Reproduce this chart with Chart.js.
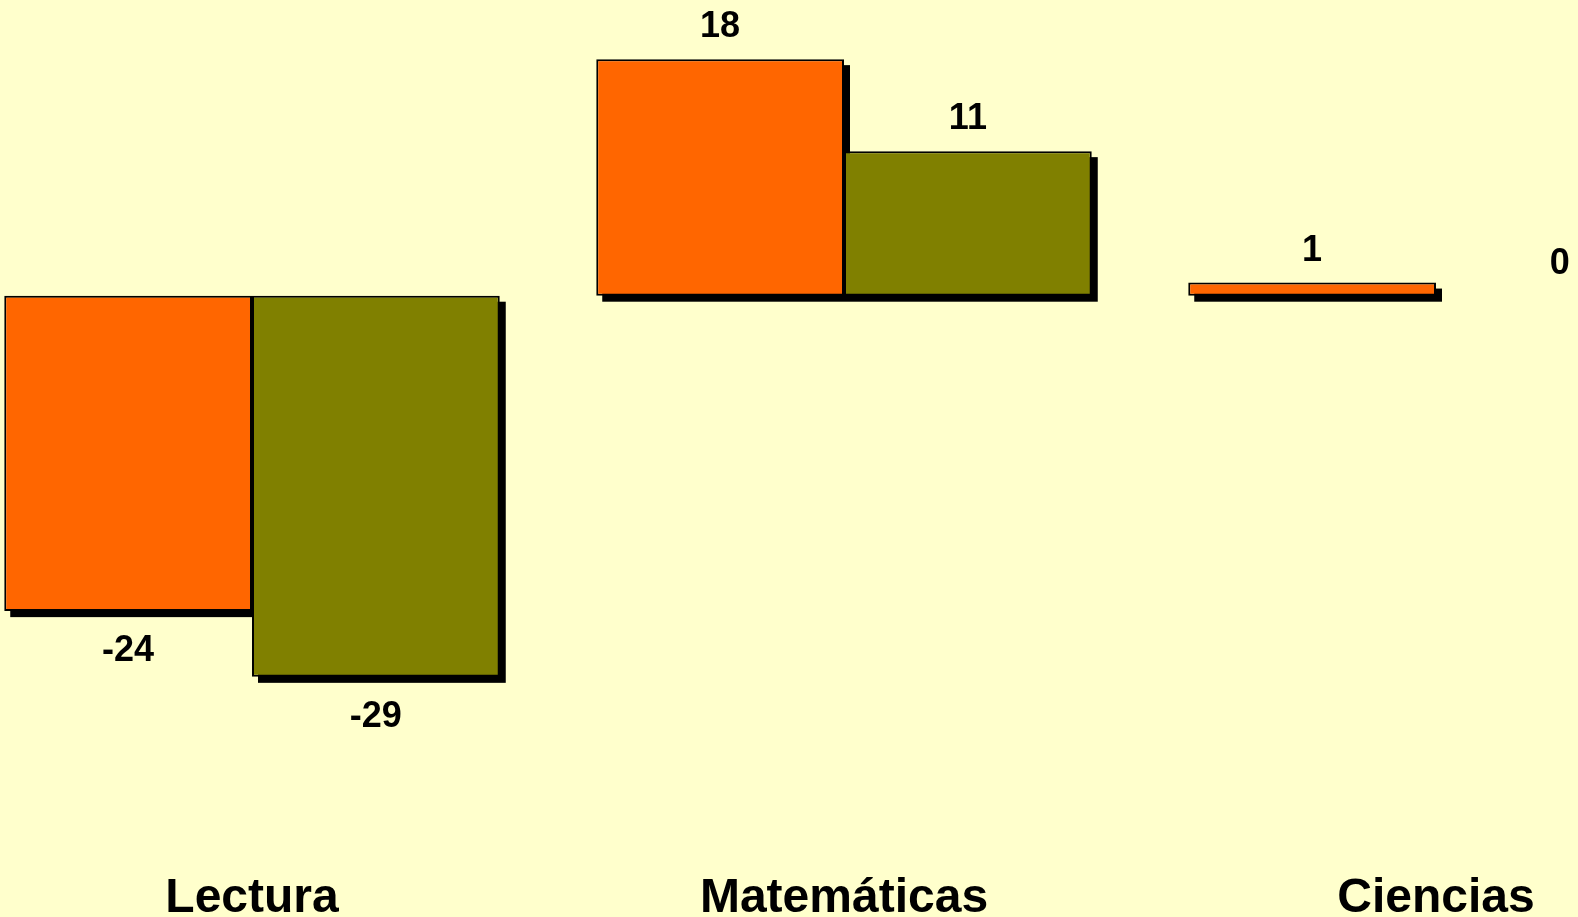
<!DOCTYPE html>
<html>
<head>
<meta charset="utf-8">
<script src="https://cdn.jsdelivr.net/npm/chart.js@4/dist/chart.umd.min.js"></script>
<style>
  html, body { margin: 0; padding: 0; background: #FFFFCC; overflow: hidden; width: 1578px; height: 917px; }
  #wrap { position: absolute; left: -44px; top: 0; width: 1776px; height: 977px; }
</style>
</head>
<body>
<div id="wrap"><canvas id="c" width="1776" height="977"></canvas></div>
<script>
const categories = ["Lectura", "Matemáticas", "Ciencias"];
const series1 = [-24, 18, 1];
const series2 = [-29, 11, 0];
const seriesColors = ["#FF6600", "#808000"];

const shadowPlugin = {
  id: "shadow",
  beforeDatasetsDraw(chart) {
    const ctx = chart.ctx;
    ctx.save();
    ctx.fillStyle = "#000000";
    chart.data.datasets.forEach((ds, di) => {
      const meta = chart.getDatasetMeta(di);
      meta.data.forEach((bar) => {
        const p = bar.getProps(["x", "y", "base", "width"], true);
        const h = Math.abs(p.base - p.y);
        if (h <= 0.5) return;
        const left = p.x - p.width / 2;
        const top = Math.min(p.y, p.base);
        ctx.fillRect(left + 6, top + 6, p.width, h);
      });
    });
    ctx.restore();
  }
};

const labelPlugin = {
  id: "valueLabels",
  afterDatasetsDraw(chart) {
    const ctx = chart.ctx;
    ctx.save();
    ctx.fillStyle = "#000";
    ctx.font = "bold 36px 'Liberation Sans', Arial, sans-serif";
    ctx.textAlign = "center";
    ctx.textBaseline = "alphabetic";
    chart.data.datasets.forEach((ds, di) => {
      const meta = chart.getDatasetMeta(di);
      meta.data.forEach((bar, i) => {
        const v = ds.data[i];
        const y = v >= 0 ? bar.y - 22 : bar.y + 50;
        ctx.fillText(String(v), bar.x, y);
      });
    });
    ctx.restore();
  }
};

new Chart(document.getElementById("c"), {
  type: "bar",
  data: {
    labels: categories,
    datasets: [
      { data: series1, backgroundColor: seriesColors[0], borderColor: "#000", borderWidth: 2, borderSkipped: false },
      { data: series2, backgroundColor: seriesColors[1], borderColor: "#000", borderWidth: 2, borderSkipped: false }
    ]
  },
  options: {
    responsive: false,
    animation: false,
    events: [],
    layout: { padding: 0 },
    categoryPercentage: 0.837,
    barPercentage: 1,
    plugins: { legend: { display: false }, tooltip: { enabled: false } },
    scales: {
      x: {
        grid: { display: false, drawTicks: false },
        border: { display: false },
        ticks: {
          color: "#000",
          padding: 49,
          font: { family: "'Liberation Sans', Arial, sans-serif", size: 48, weight: "bold" }
        }
      },
      y: {
        display: false,
        min: -40,
        max: 22.5
      }
    }
  },
  plugins: [shadowPlugin, labelPlugin]
});
</script>
</body>
</html>
